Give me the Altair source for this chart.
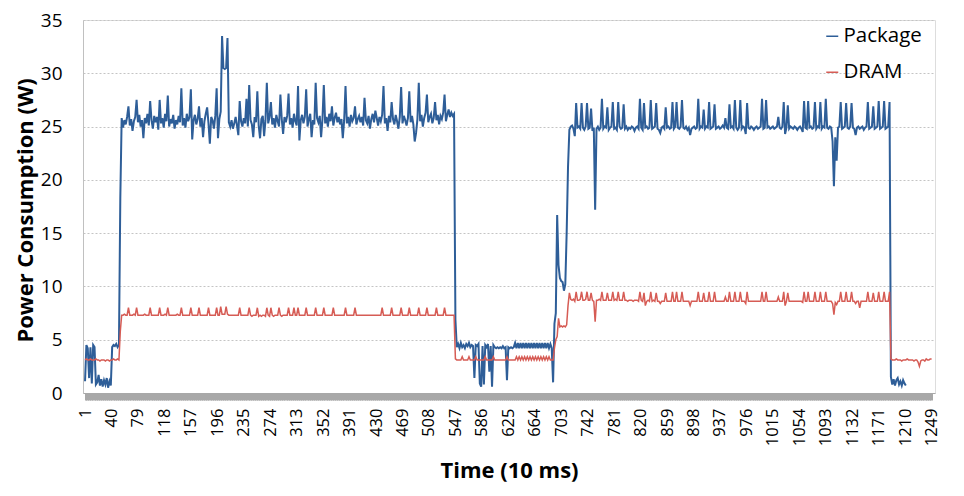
import altair as alt
import pandas as pd

# Power samples, one every second 10 ms step (time = 1, 3, 5, ...)
pkg_warmup = [1.1, 4.5, 4.2, 1.4, 4.3, 0.9, 4.5, 4.3, 0.8, 1.0,
              1.7, 0.7, 1.3, 0.6, 1.2, 0.8, 1.4, 0.5, 1.1, 0.7,
              4.3, 4.5, 4.4, 4.6, 4.3, 4.5, 18.3]

pkg_run1 = [25.8, 24.9, 25.6, 25.2, 25.9, 26.9, 25.1, 25.7, 24.6, 25.5,
            25.9, 27.5, 25.4, 26.1, 25.0, 25.6, 23.9, 25.8, 25.3, 26.2,
            25.1, 27.4, 25.6, 24.8, 26.0, 25.4, 25.9, 24.7, 27.5, 25.3,
            25.8, 24.9, 26.2, 25.5, 27.9, 25.0, 25.7, 25.3, 26.1, 24.8,
            25.6, 25.2, 26.0, 25.4, 28.6, 25.1, 25.8, 24.9, 26.2, 25.5,
            25.9, 28.5, 23.8, 25.6, 26.1, 25.2, 25.7, 26.9, 25.0, 25.8,
            24.0, 25.5, 26.2, 26.8, 25.3, 23.4, 25.9, 25.6, 24.8, 26.0,
            28.6, 23.9, 25.7, 26.4, 33.5, 30.5, 30.4, 30.5, 33.3, 25.4,
            25.0, 25.6, 24.8, 25.3, 25.9, 25.1, 24.2, 27.4, 25.5, 25.0,
            25.8, 25.3, 27.6, 25.0, 28.9, 25.6, 25.2, 24.0, 25.9, 25.4,
            28.3, 25.1, 23.9, 25.7, 26.0, 24.1, 25.6, 29.1, 25.3, 25.9,
            27.3, 25.2, 25.8, 24.9, 26.1, 25.5, 25.0, 28.0, 25.7, 24.3,
            25.9, 25.4, 26.0, 28.1, 25.2, 25.8, 24.9, 26.2, 25.5, 25.1,
            28.8, 23.7, 25.6, 26.1, 25.3, 25.9, 28.5, 25.0, 25.7, 26.2,
            24.0, 25.6, 25.2, 29.1, 25.8, 25.4, 26.0, 24.0, 25.7, 28.9,
            25.3, 25.9, 25.0, 26.2, 25.5, 26.9, 25.1, 25.8, 26.3, 25.4,
            25.9, 25.2, 25.7, 23.9, 25.6, 28.8, 25.3, 25.9, 25.0, 26.1,
            25.5, 25.8, 26.9, 25.2, 25.7, 26.0, 25.4, 25.9, 25.1, 27.7,
            25.6, 25.3, 26.0, 24.8, 25.7, 26.2, 25.4, 26.5, 25.8, 25.1,
            25.9, 25.5, 26.1, 28.8, 25.3, 25.8, 24.6, 26.0, 25.4, 27.3,
            25.7, 25.2, 26.1, 25.5, 24.8, 25.9, 28.7, 25.3, 26.0, 25.6,
            25.1, 25.8, 28.3, 25.4, 26.0, 25.2, 23.6, 24.4, 25.7, 29.1,
            25.5, 26.1, 25.0, 25.8, 26.3, 28.0, 25.4, 25.9, 26.2, 25.3,
            25.8, 27.3, 25.6, 26.1, 25.2, 26.0, 25.7, 26.3, 28.0, 25.5,
            26.1, 26.6, 25.9, 26.3, 26.0, 26.2]

pkg_pause = [6.9,
             4.3, 4.6, 4.2, 4.7, 4.3, 4.5, 4.2, 4.6, 4.4, 4.7,
             4.3, 4.5, 4.4, 1.4, 4.5, 4.4, 4.6, 0.9, 0.6, 4.4,
             0.8, 4.5, 4.3, 4.6, 2.0, 4.4, 0.6, 4.5, 4.3, 4.2,
             4.3, 4.2, 4.3, 4.2, 4.4, 4.2, 4.3, 1.2, 4.3, 4.2,
             4.3, 4.2, 4.3, 4.7, 4.2, 4.7, 4.2, 4.7, 4.2, 4.7,
             4.2, 4.7, 4.2, 4.7, 4.2, 4.7, 4.2, 4.7, 4.2, 4.7,
             4.2, 4.7, 4.2, 4.7, 4.2, 4.7, 4.2, 4.7, 4.2, 4.6,
             4.2, 1.0, 6.5, 7.5, 16.7, 12.0, 10.8, 10.5, 10.4, 9.6, 10.2, 15.0, 21.2]

pkg_run2 = [24.7, 25.0, 25.1, 24.8, 24.1, 27.2, 24.9, 25.0, 24.8, 27.2,
            24.9, 24.7, 25.0, 27.2, 24.8, 24.9, 26.7, 24.6, 24.9, 17.2,
            24.8, 25.0, 24.7, 24.9, 27.6, 24.8, 25.0, 24.9, 26.8, 24.7,
            24.9, 25.0, 27.3, 24.8, 24.9, 24.7, 27.3, 25.0, 24.8, 24.9,
            27.1, 24.8, 25.0, 24.7, 24.9, 24.8, 25.0, 24.9, 24.6, 24.9,
            25.0, 24.8, 27.6, 24.9, 24.7, 27.2, 24.9, 25.0, 24.8, 24.9,
            27.5, 24.8, 24.9, 25.0, 27.2, 24.8, 24.7, 24.4, 24.9, 25.0,
            24.8, 26.8, 24.9, 25.0, 24.8, 24.9, 27.3, 24.8, 25.0, 27.3,
            24.9, 24.8, 25.0, 27.5, 24.9, 24.8, 25.0, 24.7, 24.9, 24.2,
            24.8, 24.9, 25.0, 24.8, 24.9, 27.6, 24.8, 25.0, 24.9, 26.6,
            24.8, 25.0, 24.9, 27.3, 24.8, 24.9, 25.0, 27.1, 24.8, 24.9,
            25.0, 24.8, 24.9, 25.1, 24.9, 25.8, 24.9, 24.8, 27.1, 24.9,
            25.0, 24.8, 27.5, 24.9, 24.7, 24.9, 27.5, 24.8, 25.0, 24.9,
            24.3, 27.2, 24.9, 24.8, 25.0, 24.9, 24.7, 24.9, 25.0, 24.8,
            24.9, 25.0, 27.6, 24.8, 24.9, 27.5, 24.9, 25.0, 24.8, 24.9,
            25.0, 24.8, 24.9, 25.0, 25.9, 24.9, 24.8, 25.0, 27.3, 24.3,
            24.9, 27.0, 24.8, 25.0, 24.9, 24.8, 25.0, 24.9, 24.7, 24.9,
            25.0, 24.8, 24.5, 27.4, 24.9, 24.8, 27.4, 24.9, 25.0, 24.8,
            24.9, 27.3, 24.8, 25.0, 24.9, 27.3, 24.8, 25.0, 24.9, 27.6,
            24.9, 24.8, 25.0, 24.9, 23.6, 19.4, 24.0, 21.8, 24.9, 25.0,
            27.3, 24.8, 24.9, 25.0, 27.2, 24.9, 24.8, 25.0, 27.2, 24.9,
            24.8, 24.2, 24.9, 25.0, 24.8, 24.9, 25.0, 24.7, 24.9, 25.0,
            27.3, 24.8, 24.9, 25.0, 26.9, 24.8, 24.9, 25.0, 27.4, 24.8,
            24.9, 25.0, 27.4, 24.8, 24.9, 25.0, 27.3]

pkg_tail = [1.5, 0.8, 1.3, 0.7, 1.2, 1.4, 0.8, 1.1, 0.7, 1.2, 0.9, 0.7]

dram_warmup = [3.1, 3.2, 3.1, 3.1, 3.2, 3.1, 3.1, 3.1, 3.2, 3.1,
               3.1, 3.0, 3.1, 3.1, 3.1, 3.0, 3.1, 3.1, 3.0, 3.1,
               3.1, 3.2, 3.1, 3.1, 3.2, 3.1, 5.8]

dram_run1 = [7.3, 7.3, 7.4, 7.3, 7.3, 8.0, 7.3, 7.3, 7.3, 7.4,
             7.3, 8.0, 7.3, 7.3, 7.3, 7.3, 7.3, 7.4, 7.3, 7.3,
             7.3, 8.0, 7.3, 7.3, 7.3, 7.3, 7.3, 7.3, 8.0, 7.3,
             7.3, 7.3, 7.4, 7.3, 8.0, 7.3, 7.3, 7.3, 7.3, 7.3,
             7.3, 7.4, 7.3, 7.3, 8.0, 7.3, 7.3, 7.3, 7.3, 7.3,
             7.3, 8.0, 7.3, 7.3, 7.3, 7.3, 7.3, 8.0, 7.3, 7.3,
             7.3, 7.3, 7.3, 7.3, 8.0, 7.3, 7.3, 7.3, 7.3, 7.3,
             8.0, 7.3, 7.3, 8.1, 7.4, 7.4, 7.4, 8.1, 7.4, 7.3,
             7.3, 7.3, 7.3, 7.3, 7.3, 7.3, 7.3, 8.0, 7.3, 7.3,
             7.3, 7.3, 7.3, 7.3, 8.0, 7.3, 7.2, 7.3, 7.3, 7.3,
             8.0, 7.2, 7.3, 7.2, 7.3, 7.3, 7.2, 8.0, 7.3, 7.2,
             8.0, 7.3, 7.2, 7.3, 7.3, 7.3, 8.0, 7.3, 7.2, 7.3,
             7.3, 7.3, 7.3, 8.0, 7.3, 7.3, 7.3, 8.0, 7.3, 7.3,
             8.0, 7.3, 7.3, 7.3, 7.3, 7.3, 8.0, 7.3, 7.3, 7.3,
             7.3, 7.3, 7.3, 8.0, 7.3, 7.3, 7.3, 7.3, 7.3, 8.0,
             7.3, 7.3, 7.3, 7.3, 7.3, 7.3, 8.0, 7.3, 7.3, 7.3,
             7.3, 7.3, 7.3, 7.3, 7.3, 8.0, 7.3, 7.3, 7.3, 7.3,
             7.3, 7.3, 8.0, 7.3, 7.3, 7.3, 7.3, 7.3, 7.3, 7.3,
             7.3, 7.3, 7.3, 7.3, 7.3, 7.3, 7.3, 7.3, 7.3, 7.3,
             7.3, 7.3, 8.0, 7.3, 7.3, 7.3, 7.3, 7.3, 7.3, 8.0,
             7.3, 7.3, 7.3, 7.3, 7.3, 7.3, 8.0, 7.3, 7.3, 7.3,
             7.3, 7.3, 8.0, 7.3, 7.3, 7.3, 7.3, 7.3, 7.3, 8.0,
             7.3, 7.3, 7.3, 7.3, 7.3, 8.0, 7.3, 7.3, 7.3, 7.3,
             7.3, 7.3, 8.0, 7.3, 7.3, 7.3, 7.3, 7.3, 8.0, 7.3,
             7.3, 7.3, 7.3, 7.3, 7.3, 7.3]

dram_pause = [3.2,
              3.1, 3.1, 3.1, 3.1, 3.4, 3.1, 3.1, 3.1, 3.1, 3.4,
              3.1, 3.1, 3.1, 3.1, 3.4, 3.1, 3.1, 3.1, 3.1, 3.1,
              3.1, 3.4, 3.1, 3.1, 3.1, 3.1, 3.1, 3.4, 3.1, 3.1,
              3.1, 3.1, 3.1, 3.1, 3.1, 3.1, 3.1, 3.4, 3.1, 3.1,
              3.1, 3.1, 3.1, 3.1, 3.4, 3.1, 3.4, 3.1, 3.4, 3.1,
              3.4, 3.1, 3.4, 3.1, 3.4, 3.1, 3.4, 3.1, 3.4, 3.1,
              3.4, 3.1, 3.4, 3.1, 3.4, 3.1, 3.4, 3.1, 3.4, 3.1,
              3.1, 3.1, 4.2, 5.0, 5.3, 7.0, 6.2, 6.3, 6.2, 6.3, 6.2, 6.4, 8.2]

dram_run2 = [9.4, 8.8, 8.7, 8.8, 8.6, 9.5, 8.7, 8.7, 8.8, 9.5,
             8.7, 8.7, 8.8, 9.5, 8.7, 8.7, 9.4, 8.7, 8.6, 6.7,
             8.7, 8.7, 8.8, 8.7, 9.5, 8.7, 8.7, 8.7, 9.4, 8.7,
             8.7, 8.7, 9.5, 8.7, 8.8, 8.7, 9.5, 8.7, 8.7, 8.7,
             9.5, 8.7, 8.7, 8.6, 8.7, 8.7, 8.7, 8.6, 8.7, 8.7,
             8.7, 8.6, 9.5, 8.7, 8.6, 9.4, 8.2, 8.6, 8.7, 8.6,
             9.5, 8.6, 8.7, 8.6, 9.4, 8.6, 8.6, 8.4, 8.6, 8.6,
             8.6, 9.4, 8.6, 8.6, 8.6, 8.6, 9.5, 8.6, 8.6, 9.5,
             8.6, 8.6, 8.6, 9.5, 8.6, 8.6, 8.6, 8.6, 8.6, 8.2,
             8.6, 8.6, 8.6, 8.6, 8.6, 9.5, 8.6, 8.6, 8.6, 9.4,
             8.6, 8.6, 8.6, 9.5, 8.6, 8.6, 8.6, 9.5, 8.6, 8.6,
             8.6, 8.6, 8.6, 8.6, 8.6, 9.0, 8.6, 8.6, 9.5, 8.6,
             8.6, 8.6, 9.5, 8.6, 8.6, 8.6, 9.5, 8.6, 8.6, 8.6,
             8.4, 9.5, 8.6, 8.6, 8.6, 8.6, 8.6, 8.6, 8.6, 8.6,
             8.6, 8.6, 9.5, 8.6, 8.6, 9.5, 8.6, 8.6, 8.6, 8.6,
             8.6, 8.6, 8.6, 8.6, 9.0, 8.6, 8.6, 8.6, 9.5, 8.2,
             8.6, 9.4, 8.6, 8.6, 8.6, 8.6, 8.6, 8.6, 8.6, 8.6,
             8.6, 8.6, 8.5, 9.5, 8.6, 8.6, 9.5, 8.6, 8.6, 8.6,
             8.6, 9.5, 8.6, 8.6, 8.6, 9.5, 8.6, 8.6, 8.6, 9.5,
             8.6, 8.6, 8.6, 8.6, 8.4, 7.35, 8.5, 8.3, 8.6, 8.6,
             9.5, 8.6, 8.6, 8.6, 9.5, 8.6, 8.6, 8.6, 9.5, 8.6,
             8.6, 8.4, 8.6, 8.6, 8.0, 8.6, 8.6, 8.6, 8.6, 8.6,
             9.5, 8.6, 8.6, 8.6, 9.4, 8.6, 8.6, 8.6, 9.5, 8.6,
             8.6, 8.6, 9.5, 8.6, 8.6, 8.6, 9.5]

dram_tail = [3.2, 3.1, 3.1, 3.1, 3.2, 3.1, 3.1, 3.1, 3.0, 3.1,
             3.1, 3.1, 3.2, 3.1, 3.1, 3.1, 3.1, 3.0, 3.1, 3.1,
             2.9, 2.5, 3.0, 3.1, 3.1, 3.0, 3.2, 3.1, 3.1, 3.2, 3.2]

series_names = ["Package", "DRAM"]
series_colors = ["#2e5e98", "#d65c55"]
x_label_step = 39
y_ticks = [0, 5, 10, 15, 20, 25, 30, 35]

FONT = "Open Sans"


def series_frame(name, values):
    return pd.DataFrame({
        "time": [1 + 2 * k for k in range(len(values))],
        "power": values,
        "series": name,
    })


package = pkg_warmup + pkg_run1 + pkg_pause + pkg_run2 + pkg_tail
dram = dram_warmup + dram_run1 + dram_pause + dram_run2 + dram_tail
df = pd.concat([series_frame("Package", package), series_frame("DRAM", dram)],
               ignore_index=True)

x_enc = alt.X(
    "time:Q",
    scale=alt.Scale(domain=[-2, 1254], nice=False, zero=False),
    axis=alt.Axis(
        values=list(range(1, 1250)),
        format="d",
        labelExpr=f"(datum.value - 1) % {x_label_step} == 0 ? datum.label : ''",
        labelOverlap=False,
        labelFlush=False,
        labelBound=False,
        labelAngle=-90,
        labelFontSize=16.5,
        labelColor="#000000",
        labelPadding=8,
        tickSize=7,
        tickColor="#a8a8a8",
        tickWidth=1,
        domainColor="#a8a8a8",
        grid=False,
        title="Time (10 ms)",
        titleFontSize=22,
        titleFontWeight="bold",
        titleColor="#000000",
        titleX=426,
        titleY=84,
        titleAlign="center",
        titleBaseline="alphabetic",
    ),
)

y_enc = alt.Y(
    "power:Q",
    scale=alt.Scale(domain=[0, 35], nice=False),
    axis=alt.Axis(
        values=y_ticks,
        ticks=False,
        tickSize=0,
        labelPadding=21,
        labelFontSize=19,
        labelColor="#000000",
        domainColor="#c0c0c0",
        grid=True,
        gridColor="#c4c4c4",
        gridDash=[2, 2],
        gridWidth=1,
        title="Power Consumption (W)",
        titleFontSize=22,
        titleFontWeight="bold",
        titleColor="#000000",
        titleAngle=270,
        titleX=-58,
        titleY=190,
        titleAlign="center",
        titleBaseline="middle",
    ),
)

color_enc = alt.Color(
    "series:N",
    scale=alt.Scale(domain=series_names, range=series_colors),
    legend=alt.Legend(
        title=None,
        orient="none",
        legendX=739,
        legendY=6,
        padding=0,
        symbolType="stroke",
        symbolSize=144,
        symbolStrokeWidth=1.5,
        labelFontSize=20.5,
        labelColor="#000000",
        labelOffset=1,
        rowPadding=15,
    ),
)

base = alt.Chart(df).encode(x=x_enc, y=y_enc, color=color_enc)

package_line = base.transform_filter(alt.datum.series == "Package").mark_line(
    strokeWidth=2, interpolate="linear"
)
dram_line = base.transform_filter(alt.datum.series == "DRAM").mark_line(
    strokeWidth=1.5, interpolate="linear"
)

chart = (
    alt.layer(package_line, dram_line)
    .properties(
        width=852,
        height=373,
        autosize="none",
        padding={"left": 83, "top": 20, "right": 29, "bottom": 103},
        background="#ffffff",
    )
    .configure_view(stroke=None)
    .configure(font=FONT)
)

chart.save("out.html", embed_options={"renderer": "svg", "actions": False})
